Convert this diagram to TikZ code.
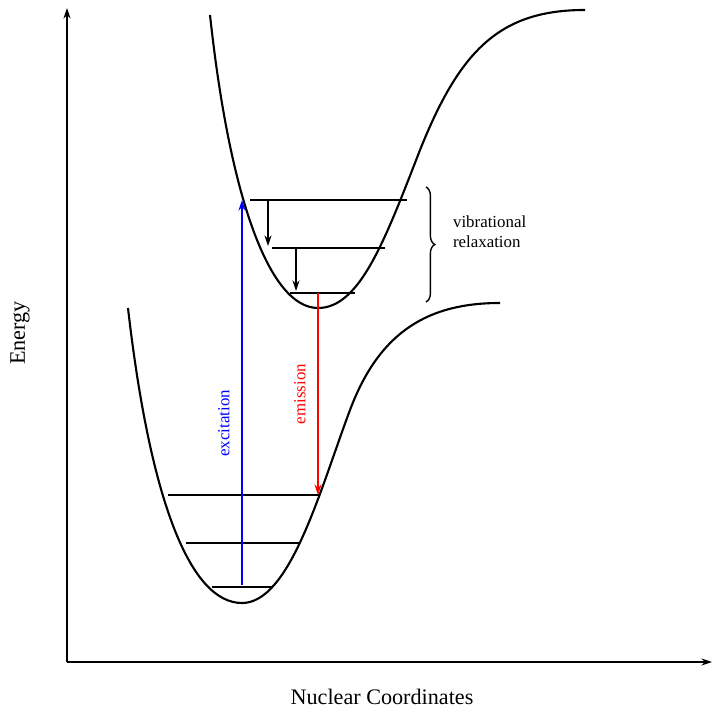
\documentclass[tikz,border=0pt]{standalone}
\usepackage{fontspec}
\setmainfont{Liberation Serif}
\usetikzlibrary{arrows.meta, decorations.pathreplacing}
\tikzstyle{level} = [thin]
\tikzstyle{arrow} = [->, >={Stealth[length=3pt, width=2pt]}]
\begin{document}
\begin{tikzpicture}[x=0.01cm, y=-0.01cm, semithick, font=\fontsize{4.8pt}{5.6pt}\selectfont]
  \useasboundingbox (0,0) rectangle (720,722);
  % axes
  \coordinate (origin) at (67,662);
  \coordinate (ytop) at (67,8);
  \coordinate (xend) at (712,662);
  \draw[arrow] (origin) -- (ytop);
  \draw[arrow] (origin) -- (xend);
  \node (energy) [rotate=90, font=\fontsize{6.3pt}{7pt}\selectfont] at (20,333) {Energy};
  \node (nuclear) [font=\fontsize{6.3pt}{7pt}\selectfont] at (382,697) {Nuclear Coordinates};

  % potential curves
  \draw (128,308) .. controls (150,500) and (190,603) .. (242,603)
    .. controls (290,603) and (320,490) .. (350,410)
    .. controls (380,330) and (430,303) .. (500,303);
  \draw (210,15) .. controls (230,200) and (270,308) .. (318,308)
    .. controls (360,308) and (385,240) .. (420,150)
    .. controls (460,50) and (500,10) .. (585,10);

  % vibrational levels
  \coordinate (g0l) at (212,587); \coordinate (g0r) at (272,587);
  \coordinate (g1l) at (186,543); \coordinate (g1r) at (300,543);
  \coordinate (g2l) at (168,495); \coordinate (g2r) at (320,495);
  \coordinate (e0l) at (290,293); \coordinate (e0r) at (355,293);
  \coordinate (e1l) at (272,248); \coordinate (e1r) at (385,248);
  \coordinate (e2l) at (250,200); \coordinate (e2r) at (407,200);
  \foreach \l in {g0,g1,g2,e0,e1,e2}
    \draw[level] (\l l) -- (\l r);

  % transitions
  \coordinate (exbot) at (242,585); \coordinate (extop) at (242,200);
  \draw[arrow, blue, thin] (exbot) -- node[rotate=90, above, pos=.42] {excitation} (extop);
  \coordinate (emtop) at (318,293); \coordinate (embot) at (318,495);
  \draw[arrow, red, thin] (emtop) -- node[rotate=90, above, pos=.5] {emission} (embot);
  \coordinate (r1a) at (268,200); \coordinate (r1b) at (268,246);
  \coordinate (r2a) at (296,248); \coordinate (r2b) at (296,291);
  \draw[arrow, thin] (r1a) -- (r1b);
  \draw[arrow, thin] (r2a) -- (r2b);

  % brace
  \coordinate (brtop) at (426,187); \coordinate (brbot) at (426,302);
  \draw[thin, decorate, decoration={brace, amplitude=2.5pt}] (brtop) -- (brbot);
  \node (relax) [anchor=west, align=left, inner sep=0pt] at (452,232) {vibrational\\relaxation};
\end{tikzpicture}
\end{document}
